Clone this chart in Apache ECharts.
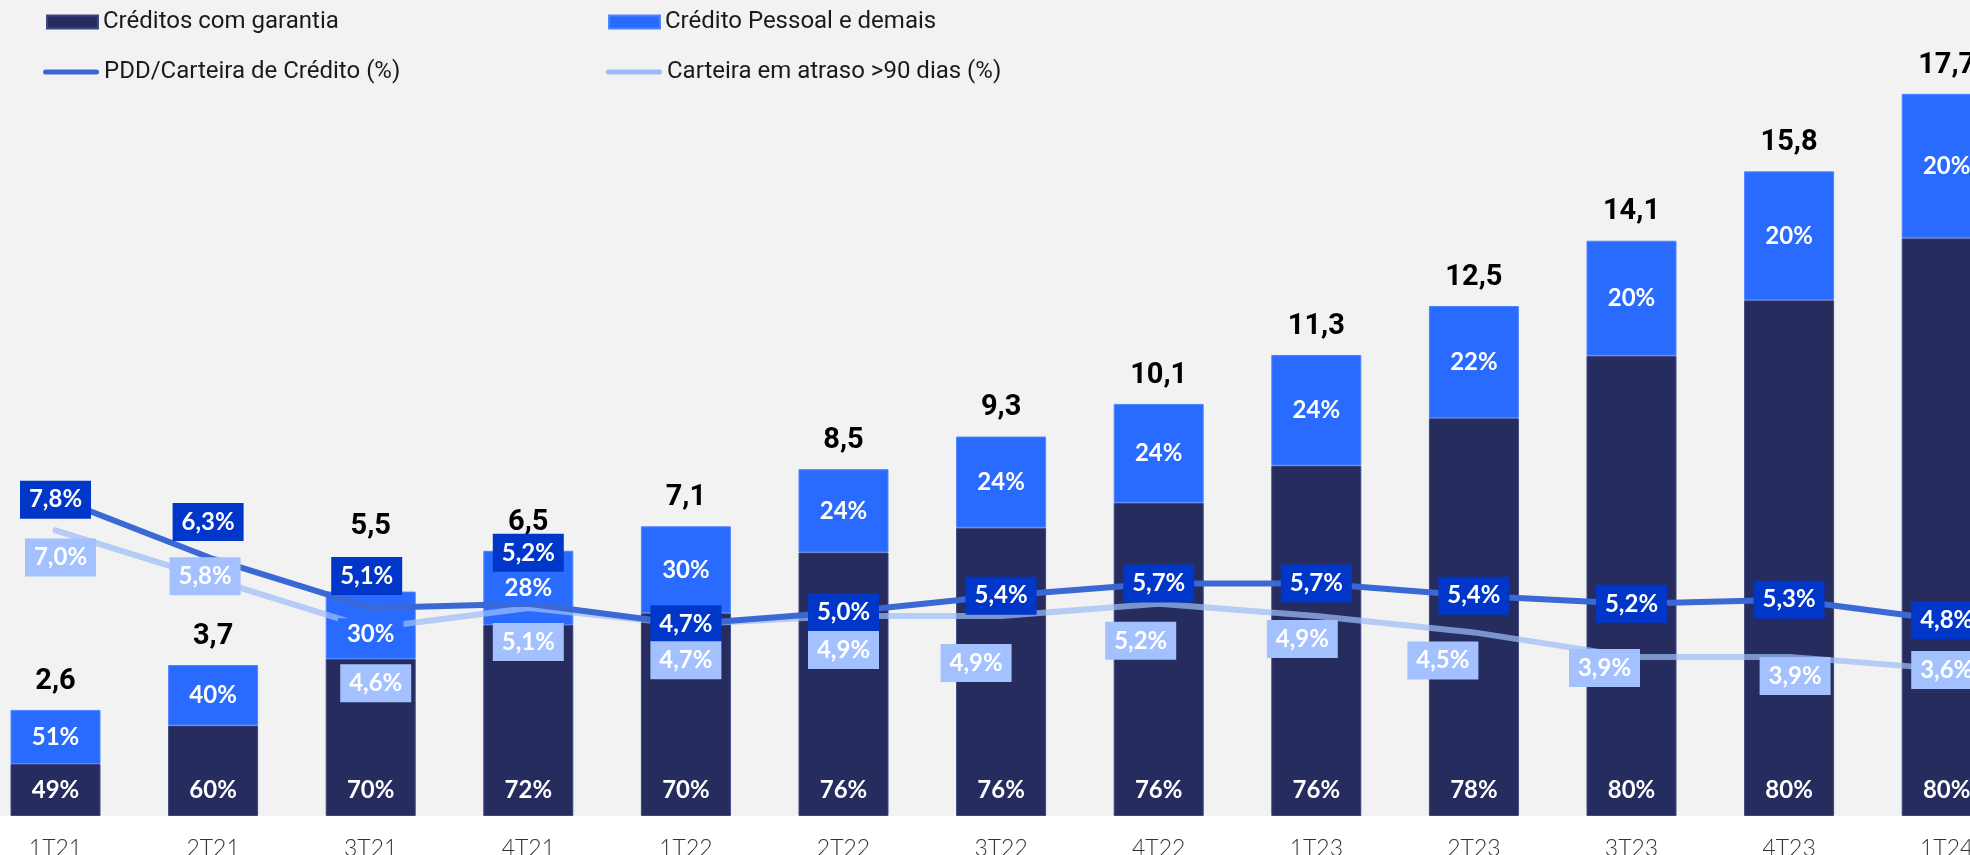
<!DOCTYPE html>
<html lang="pt-BR">
<head>
<meta charset="utf-8">
<title>Carteira de crédito</title>
<script src="https://cdn.jsdelivr.net/npm/echarts@6/dist/echarts.min.js"></script>
<style>
  html, body { margin: 0; padding: 0; background: #f2f2f2; }
  #chart { width: 1970px; height: 855px; }
</style>
</head>
<body>
<div id="chart"></div>
<script>
// Trimestres
const categorias = ['1T21', '2T21', '3T21', '4T21', '1T22', '2T22', '3T22', '4T22', '1T23', '2T23', '3T23', '4T23', '1T24'];
// Carteira total (R$ bi)
const totalCarteira = [2.6, 3.7, 5.5, 6.5, 7.1, 8.5, 9.3, 10.1, 11.3, 12.5, 14.1, 15.8, 17.7];
// Participação de cada tipo na carteira (%)
const pctGarantia = [49, 60, 70, 72, 70, 76, 76, 76, 76, 78, 80, 80, 80];
const pctPessoal = [51, 40, 30, 28, 30, 24, 24, 24, 24, 22, 20, 20, 20];
// Indicadores de qualidade (%)
const pddCarteira = [7.8, 6.3, 5.1, 5.2, 4.7, 5.0, 5.4, 5.7, 5.7, 5.4, 5.2, 5.3, 4.8];
const atraso90 = [7.0, 5.8, 4.6, 5.1, 4.7, 4.9, 4.9, 5.2, 4.9, 4.5, 3.9, 3.9, 3.6];

// Deslocamento dos rótulos em pixels, para evitar sobreposição
const pddRotuloDesloc = [[0, 2], [-5, -37], [-4, -32], [0, -51], [0, 0], [0, 0], [0, 0], [0, 0], [0, 0], [0, 0], [0, 0], [0, 0], [0, 0]];
const atrasoRotuloDesloc = [[5, 27], [-8, -3], [5, 55], [0, 34], [0, 36], [0, 34], [-25, 47], [-18, 37], [-14, 23], [-31, 28], [-27, 11], [6, 19], [0, 1]];
const pessoalRotuloDesloc = [0, 0, 9, 0, 0, 0, 0, 0, 0, 0, 0, 0, 0];
const totalRotuloDesloc = [0, 0, -36, 0, 0, 0, 0, 0, 0, 0, 0, 0, 0];

const COR_FUNDO = '#f2f2f2';
const COR_GARANTIA = '#262c5e';
const COR_PESSOAL = '#2a6bff';
const COR_PDD = '#3a69d6';
const COR_ATRASO = '#9dbcf6';
const COR_ROT_PDD = '#0037c9';
const COR_ROT_ATRASO = '#a3c1ff';

// Valores absolutos de cada segmento da barra empilhada
const garantia = totalCarteira.map((t, i) => t * pctGarantia[i] / 100);
const pessoal = totalCarteira.map((t, i) => t * pctPessoal[i] / 100);

const fmtPct = v => v.toFixed(1).replace('.', ',') + '%';

const rotuloBarra = {
  show: true,
  opacity: 1,
  color: '#ffffff',
  fontFamily: 'Lato',
  fontWeight: 'bold',
  fontSize: 24,
  lineHeight: 24,
  padding: [4, 9]
};

const rotuloLinha = {
  show: true,
  opacity: 1,
  position: 'inside',
  color: '#ffffff',
  fontFamily: 'Lato',
  fontWeight: 'bold',
  fontSize: 24,
  lineHeight: 24,
  width: 55,
  align: 'center',
  padding: [7, 8]
};

const legendaBase = {
  orient: 'horizontal',
  padding: 0,
  selectedMode: false,
  textStyle: { fontFamily: 'Roboto', fontSize: 24, color: '#1a1a1a' }
};
const iconeLinha = 'path://M2.5,0H53.5A2.5,2.5,0,0,1,53.5,5H2.5A2.5,2.5,0,0,1,2.5,0Z';

const chart = echarts.init(document.getElementById('chart'), null, { renderer: 'canvas' });

chart.setOption({
  animation: false,
  backgroundColor: COR_FUNDO,
  // faixa branca sob a área do gráfico, onde ficam os trimestres
  graphic: [{
    type: 'rect',
    left: 0,
    bottom: 0,
    z: -100,
    silent: true,
    shape: { width: 1970, height: 39 },
    style: { fill: '#ffffff' }
  }],
  legend: [
    Object.assign({}, legendaBase, { left: 46, top: 10, itemWidth: 51, itemHeight: 13, icon: 'rect', data: ['Créditos com garantia'] }),
    Object.assign({}, legendaBase, { left: 608, top: 10, itemWidth: 51, itemHeight: 13, icon: 'rect', data: ['Crédito Pessoal e demais'] }),
    Object.assign({}, legendaBase, { left: 43, top: 60, itemWidth: 56, itemHeight: 5, icon: iconeLinha, data: ['PDD/Carteira de Crédito (%)'] }),
    Object.assign({}, legendaBase, { left: 606, top: 60, itemWidth: 56, itemHeight: 6, icon: iconeLinha, data: ['Carteira em atraso >90 dias (%)'] })
  ],
  grid: {
    left: 55.5,
    right: 23.3,
    top: 0,
    bottom: 39,
    outerBoundsMode: 'none',
    containLabel: false
  },
  xAxis: {
    type: 'category',
    data: categorias,
    boundaryGap: false,
    axisLine: { show: false },
    axisTick: { show: false },
    splitLine: { show: false },
    axisLabel: {
      margin: 21,
      fontFamily: 'Lato',
      fontWeight: 300,
      fontSize: 23,
      color: '#333333'
    }
  },
  yAxis: {
    type: 'value',
    min: 0,
    max: 20,
    show: false,
    splitLine: { show: false }
  },
  series: [
    {
      name: 'Créditos com garantia',
      type: 'bar',
      stack: 'carteira',
      barWidth: 90,
      barGap: '-100%',
      clip: false,
      z: 2,
      itemStyle: { color: COR_GARANTIA, borderColor: '#3d4781', borderWidth: 1 },
      data: garantia
    },
    {
      name: 'Crédito Pessoal e demais',
      type: 'bar',
      stack: 'carteira',
      barWidth: 90,
      barGap: '-100%',
      clip: false,
      z: 2,
      itemStyle: { color: COR_PESSOAL, borderColor: '#4f84ff', borderWidth: 1 },
      data: pessoal
    },
    {
      name: 'Carteira em atraso >90 dias (%)',
      type: 'line',
      z: 3,
      clip: false,
      symbol: 'none',
      itemStyle: { color: COR_ATRASO },
      lineStyle: { color: COR_ATRASO, width: 6, opacity: 0.72, cap: 'round', join: 'round' },
      data: atraso90
    },
    {
      name: 'PDD/Carteira de Crédito (%)',
      type: 'line',
      z: 4,
      clip: false,
      symbol: 'none',
      itemStyle: { color: COR_PDD },
      lineStyle: { color: COR_PDD, width: 6, cap: 'round', join: 'round' },
      data: pddCarteira
    },
    // rótulos de participação, desenhados acima das linhas
    {
      type: 'bar',
      stack: 'rotulos',
      barWidth: 90,
      barGap: '-100%',
      clip: false,
      z: 5,
      silent: true,
      itemStyle: { color: 'transparent' },
      label: Object.assign({}, rotuloBarra, {
        position: 'insideBottom',
        distance: 10,
        backgroundColor: COR_GARANTIA,
        formatter: p => pctGarantia[p.dataIndex] + '%'
      }),
      data: garantia
    },
    {
      type: 'bar',
      stack: 'rotulos',
      barWidth: 90,
      barGap: '-100%',
      clip: false,
      z: 5,
      silent: true,
      itemStyle: { color: 'transparent' },
      label: Object.assign({}, rotuloBarra, {
        position: 'inside',
        backgroundColor: COR_PESSOAL,
        formatter: p => pctPessoal[p.dataIndex] + '%'
      }),
      data: pessoal.map((v, i) => ({ value: v, label: { offset: [0, pessoalRotuloDesloc[i]] } }))
    },
    // total da carteira acima de cada barra
    {
      type: 'scatter',
      z: 6,
      clip: false,
      silent: true,
      symbolSize: 0,
      itemStyle: { opacity: 1 },
      label: {
        show: true,
        opacity: 1,
        position: 'top',
        distance: 14,
        fontFamily: 'Roboto',
        fontWeight: 'bold',
        fontSize: 29,
        color: '#000000',
        formatter: p => totalCarteira[p.dataIndex].toFixed(1).replace('.', ',')
      },
      data: totalCarteira.map((v, i) => ({ value: v, label: { offset: [0, totalRotuloDesloc[i]] } }))
    },
    // rótulos dos indicadores
    {
      type: 'scatter',
      z: 7,
      clip: false,
      silent: true,
      symbolSize: 0,
      itemStyle: { opacity: 1 },
      label: Object.assign({}, rotuloLinha, {
        backgroundColor: COR_ROT_PDD,
        formatter: p => fmtPct(pddCarteira[p.dataIndex])
      }),
      data: pddCarteira.map((v, i) => ({ value: v, label: { offset: pddRotuloDesloc[i] } }))
    },
    {
      type: 'scatter',
      z: 8,
      clip: false,
      silent: true,
      symbolSize: 0,
      itemStyle: { opacity: 1 },
      label: Object.assign({}, rotuloLinha, {
        backgroundColor: COR_ROT_ATRASO,
        formatter: p => fmtPct(atraso90[p.dataIndex])
      }),
      data: atraso90.map((v, i) => ({ value: v, label: { offset: atrasoRotuloDesloc[i] } }))
    }
  ]
});
</script>
</body>
</html>
